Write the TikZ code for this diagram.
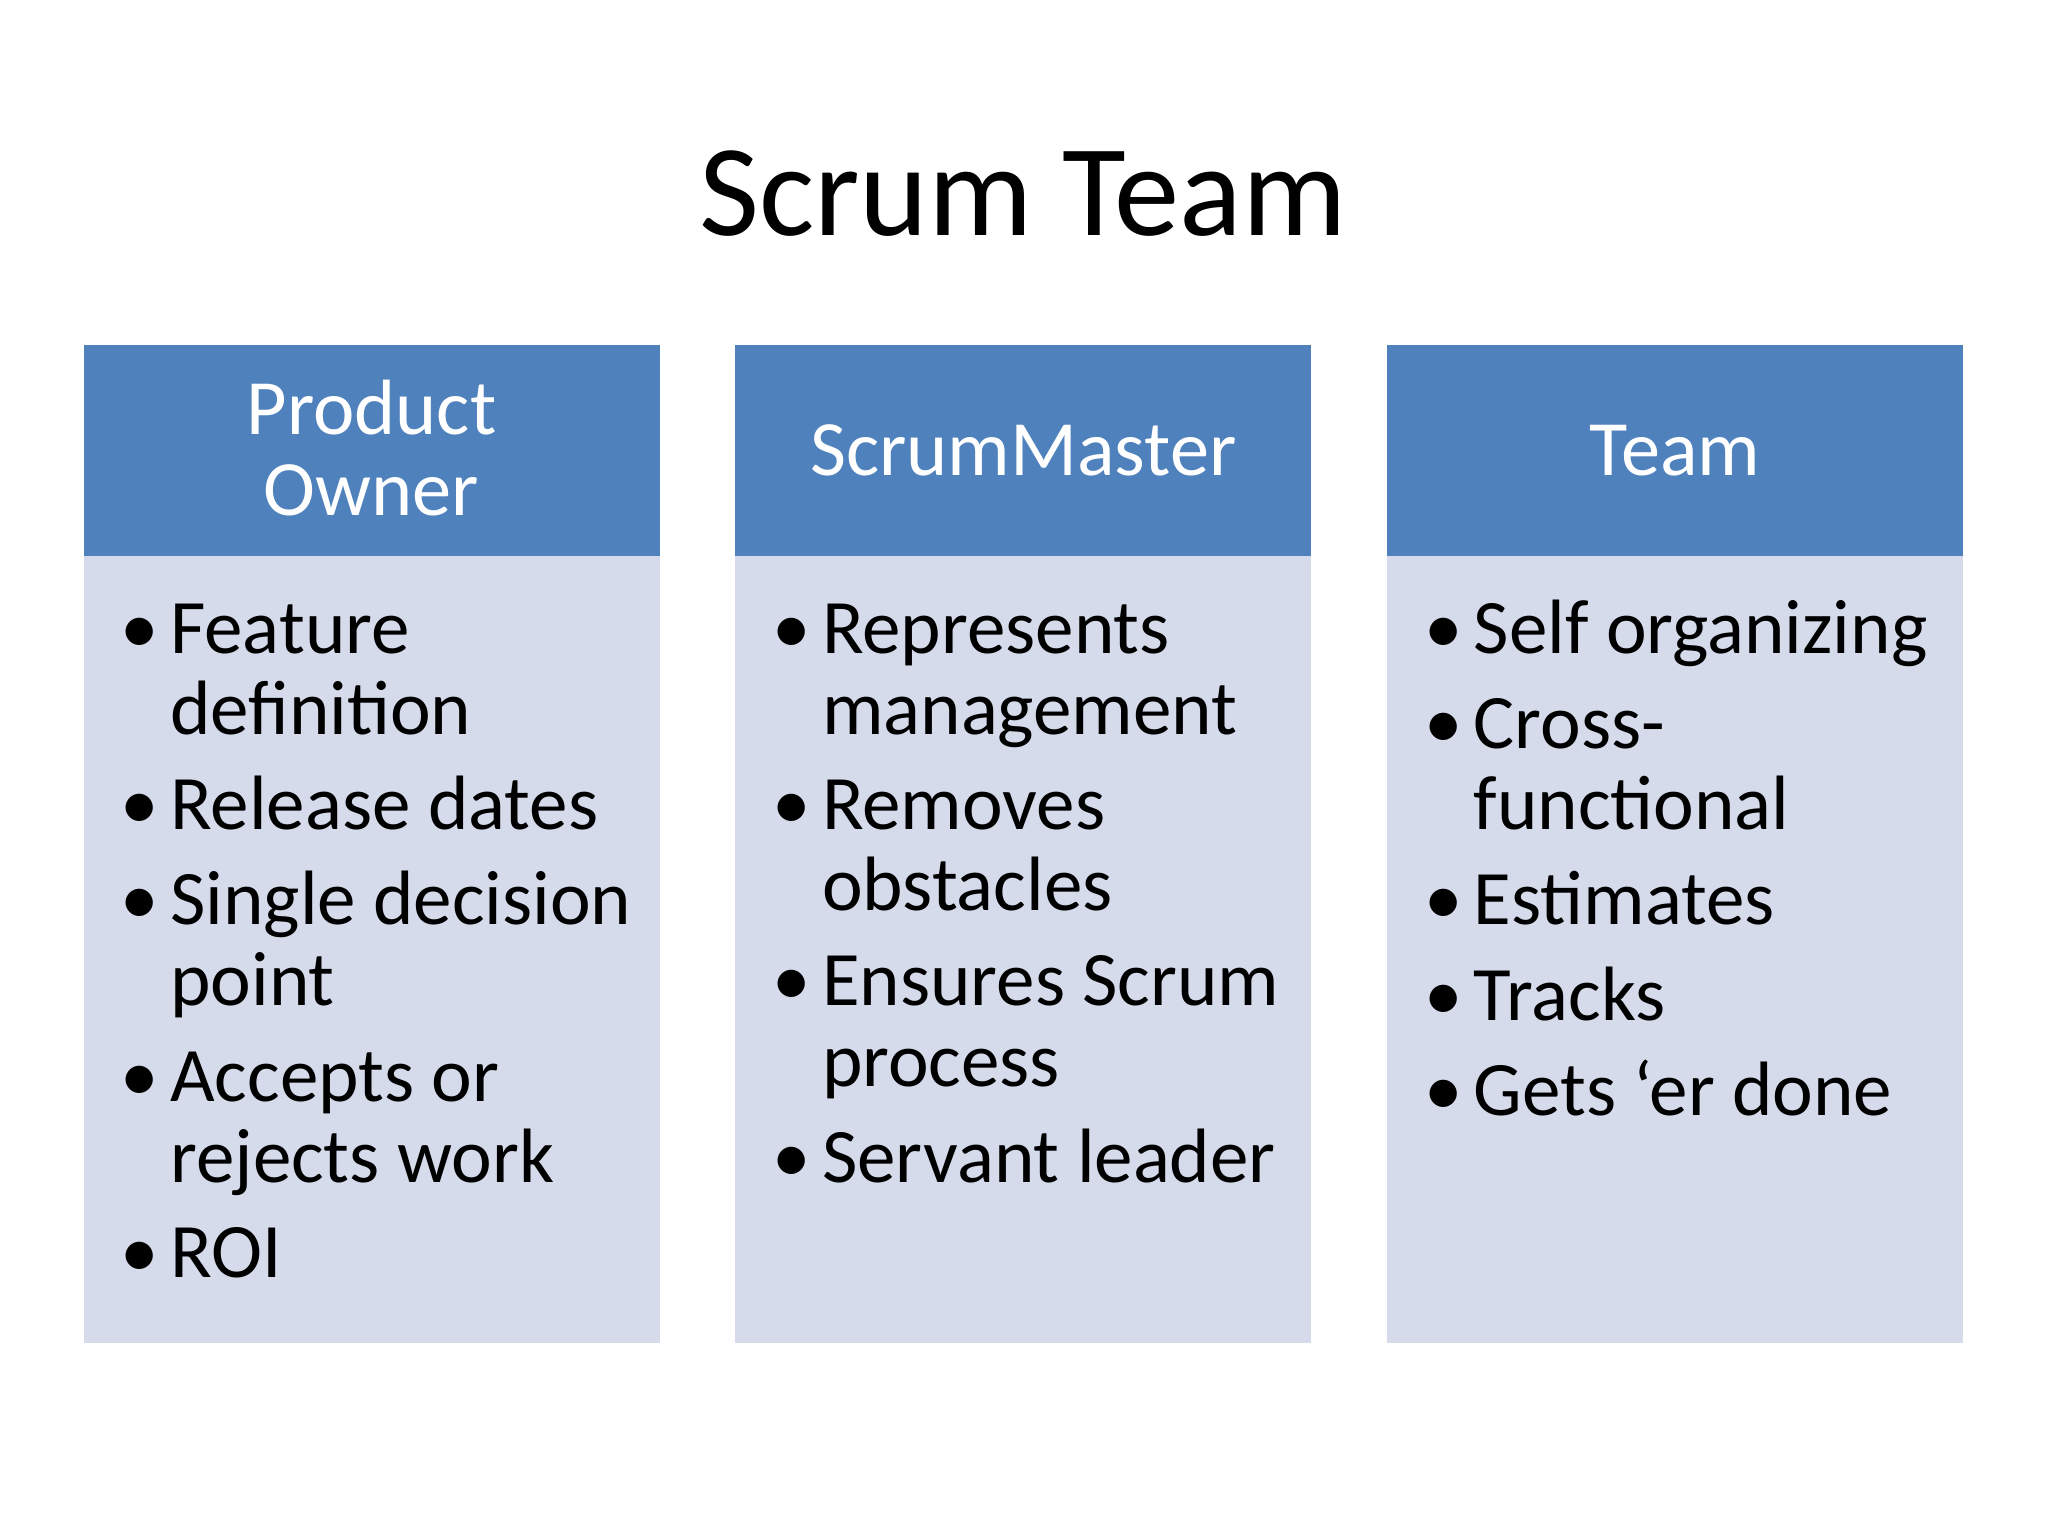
\documentclass[tikz,border=0pt]{standalone}
\usepackage{fontspec}
\setmainfont{Carlito}
\definecolor{hdr}{HTML}{4F81BD}
\definecolor{bdy}{HTML}{D5DBEA}
\begin{document}
\begin{tikzpicture}[x=0.5pt,y=-0.5pt,
  ln/.style={anchor=base west,inner sep=0pt,font=\fontsize{29.5}{30}\selectfont},
  bl/.style={anchor=base west,inner sep=0pt,font=\fontsize{29.5}{30}\selectfont},
  hd/.style={anchor=base,inner sep=0pt,text=white,font=\fontsize{30}{30}\selectfont}]
\useasboundingbox (0,0) rectangle (1568,1176);
\fill[white] (0,0) rectangle (1568,1176);
\node[anchor=base,inner sep=0pt,font=\fontsize{50}{50}\selectfont] (title) at (783,180) {Scrum Team};
\foreach \x/\n in {64/a,563/b,1062/c}{
  \fill[bdy] (\x,426) rectangle ++(441,602);
  \fill[hdr] (\x,264) rectangle ++(441,162);
}
\node[hd] (h1) at (284.5,333) {Product};
\node[hd] (h2) at (284.5,395) {Owner};
\node[hd] (h3) at (783.5,364) {ScrumMaster};
\node[hd] (h4) at (1282.5,364) {Team};
% column 1
\foreach \y/\t/\b [count=\i] in {500/Feature/1,562/definition/0,635/Release dates/1,708/Single decision/1,770/point/0,843/Accepts or/1,905/rejects work/0,978/ROI/1}{
  \node[ln] (a\i) at (130,\y) {\t};
  \ifnum\b=1 \node[bl] (ab\i) at (92,\y) {•};\fi
}
\foreach \y/\t/\b [count=\i] in {500/Represents/1,562/management/0,635/Removes/1,697/obstacles/0,770/Ensures Scrum/1,832/process/0,905/Servant leader/1}{
  \node[ln] (b\i) at (629,\y) {\t};
  \ifnum\b=1 \node[bl] (bb\i) at (591,\y) {•};\fi
}
\foreach \y/\t/\b [count=\i] in {500/Self organizing/1,573/Cross-/1,635/functional/0,708/Estimates/1,781/Tracks/1,854/Gets ‘er done/1}{
  \node[ln] (c\i) at (1128,\y) {\t};
  \ifnum\b=1 \node[bl] (cb\i) at (1090,\y) {•};\fi
}
\end{tikzpicture}
\end{document}
